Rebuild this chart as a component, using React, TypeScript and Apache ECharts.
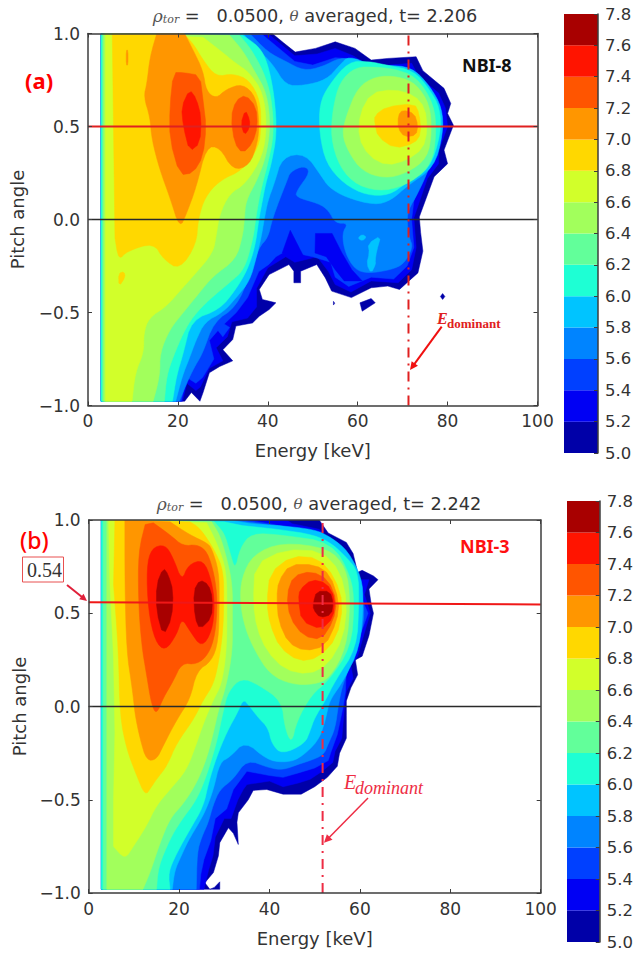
import React, { useEffect, useRef } from "react";
import * as echarts from "echarts";

type Pt = [number, number];
type Layer = [number, Pt[]];

const levels = [5.0, 5.2, 5.4, 5.6, 5.8, 6.0, 6.2, 6.4, 6.6, 6.8, 7.0, 7.2, 7.4, 7.6, 7.8];
const levelColors = ["#0000a8", "#0000f4", "#0040ff", "#0084ff", "#00c4ff", "#1effd4", "#62ff9a", "#a2ff5c", "#d2ff2a", "#ffd800", "#ff9600", "#ff5500", "#ff1400", "#a80000"];
const titleTimes = ["2.206", "2.242"];
const dominantEnergy = [71.3, 51.75];
const beamLineA: Pt[] = [[0, 0.5], [100, 0.5]];
const beamLineB: Pt[] = [[0, 0.559], [100, 0.547]];

// ---- panel (a): contour regions, energy [keV] / pitch angle ----
const a50: Pt[] = [[2.9,1],[41,1],[43.5,.95],[46.1,.9],[50.6,.92],[55,.955],[59.4,.92],[63,.857],[66.7,.866],[73,.875],[74.5,.8],[79.2,.705],[80.7,.624],[80,.57],[81.3,.507],[79.2,.373],[80,.3],[77,.23],[73.7,.014],[74,-.07],[74.5,-.17],[73.4,-.287],[69.3,-.376],[66.7,-.358],[63,-.367],[58.6,-.42],[54.2,-.385],[52.8,-.314],[50.9,-.242],[47.3,-.278],[47.3,-.34],[45.8,-.34],[45.8,-.278],[44.7,-.242],[40.3,-.296],[38.1,-.376],[38.8,-.43],[41.8,-.448],[40.3,-.484],[38.1,-.52],[36.6,-.556],[32.9,-.573],[32.2,-.645],[30,-.7],[32.2,-.76],[29.3,-.79],[27,-.824],[25.6,-.93],[24.9,-.977],[23,-.93],[21.5,-.977],[2.9,-.977]];
const a50b: Pt[] = [[60.5,-.448],[63,-.425],[63.9,-.448],[61,-.493]];
const a50c: Pt[] = [[78.9,-.398],[79.4,-.414],[78.9,-.43],[78.4,-.414]];
const a50d: Pt[] = [[54.6,-.44],[54.9,-.45],[54.6,-.46]];
const a52: Pt[] = [[2.9,1],[40,1],[46,.88],[51,.89],[55,.92],[59,.88],[63,.82],[67,.83],[72,.84],[73.5,.77],[78,.68],[79.5,.6],[80,.5],[78,.37],[78,.3],[75.5,.22],[72.5,.01],[73,-.15],[72,-.27],[69,-.34],[63,-.33],[58.5,-.39],[55,-.35],[53.5,-.28],[51,-.2],[46,-.23],[44,-.2],[40,-.26],[37.5,-.37],[37.5,-.47],[35.5,-.53],[32,-.55],[31,-.63],[28.5,-.69],[30,-.76],[27,-.8],[25,-.9],[24,-.92],[22,-.88],[21,-.977],[2.9,-.977]];
const a54: Pt[] = [[2.9,1],[38.5,1],[42,.93],[46,.85],[50,.83],[55,.87],[60,.86],[64,.78],[68,.8],[72,.78],[76,.68],[78,.6],[79,.5],[77,.37],[74,.22],[72.5,.1],[72,0],[72.5,-.15],[71,-.25],[68,-.32],[63,-.31],[58,-.36],[55,-.31],[54,-.23],[50,-.2],[44,-.17],[41.8,-.2],[40.3,-.24],[38,-.28],[35.5,-.42],[33,-.5],[29.5,-.58],[27,-.65],[28,-.75],[25.5,-.85],[24,-.88],[22,-.85],[20.7,-.977],[2.9,-.977]];
const a56: Pt[] = [[2.9,1],[36,1],[40,.9],[44,.85],[48,.8],[52,.82],[56,.87],[60,.86],[64,.8],[68,.8],[73,.76],[77,.66],[78.5,.6],[78.5,.46],[76,.28],[73.4,.14],[71.2,.05],[71,-.02],[71.5,-.1],[72.3,-.147],[70.4,-.237],[67.5,-.27],[62.4,-.29],[59.4,-.27],[57.2,-.18],[56.5,-.075],[57.9,-.02],[55,-.02],[53.5,.05],[51.3,.086],[46.2,.12],[46.5,.157],[49.5,.256],[48,.29],[45,.256],[44.3,.21],[42.5,.1],[41,0],[40,-.1],[38,-.15],[36,-.3],[33,-.47],[28,-.55],[25.5,-.72],[24,-.78],[22.5,-.85],[20.3,-.977],[2.9,-.977]];
const a58: Pt[] = [[2.9,1],[34.5,1],[37,.93],[41,.84],[44,.72],[48,.72],[53,.75],[56,.83],[58,.88],[63,.83],[66,.83],[72,.82],[76,.72],[78.8,.6],[79,.46],[77,.28],[71.2,.184],[67.5,.104],[63.8,.077],[57.2,.12],[53.5,.175],[52,.23],[48.4,.355],[43.2,.337],[41.4,.19],[40,.1],[39.2,0],[38.5,-.1],[37.5,-.2],[36,-.33],[33,-.42],[30,-.5],[26,-.55],[24,-.65],[22.5,-.75],[21,-.84],[19.5,-.977],[2.9,-.977]];
const a60: Pt[] = [[2.9,1],[34.4,.99],[38.1,.93],[40,.84],[41.5,.66],[42,.46],[40.8,.3],[39.5,.19],[38.8,.1],[38,0],[37.2,-.143],[35.5,-.27],[32.9,-.376],[29.3,-.484],[23,-.54],[21.2,-.72],[19.7,-.84],[18.8,-.977],[2.9,-.977]];
const a60r: Pt[] = [[51.5,.62],[53.5,.72],[58,.85],[62.5,.85],[66.5,.83],[72.5,.8],[76,.7],[78.3,.6],[78.5,.46],[76,.27],[71,.2],[67,.13],[62,.13],[57,.19],[53,.3],[51.5,.46]];
const a62: Pt[] = [[3.2,1],[33.7,.99],[35.9,.93],[39,.8],[40.8,.66],[41.4,.46],[40,.3],[39,.21],[38,.104],[37.3,0],[36.7,-.107],[34.8,-.27],[31.5,-.34],[27,-.43],[23.4,-.52],[21.2,-.61],[19,-.735],[17.5,-.84],[17,-.977],[3.2,-.977]];
const a62r: Pt[] = [[54.5,.6],[56,.74],[59.5,.82],[64,.82],[68,.81],[73,.77],[77,.62],[77.5,.46],[76.5,.3],[72,.2],[66,.15],[60,.18],[56,.28],[54,.44]];
const a64: Pt[] = [[3.5,1],[31.5,.99],[34.4,.91],[37,.8],[39.8,.68],[40.6,.5],[39.6,.337],[37.6,.21],[35.1,.1],[34.8,0],[34.4,-.09],[32.9,-.215],[27.8,-.305],[24.9,-.39],[21.2,-.5],[18.2,-.59],[16,-.717],[16,-.84],[14.5,-.977],[3.5,-.977]];
const a64r: Pt[] = [[57.5,.56],[60,.71],[64,.77],[69,.77],[73,.73],[76,.62],[76.5,.47],[75.5,.33],[71,.25],[66,.22],[61,.26],[58,.36],[56.5,.46]];
const a66: Pt[] = [[3.9,1],[25.6,.98],[29.3,.91],[32.9,.84],[35.9,.79],[39,.68],[39.8,.5],[38.8,.337],[35,.19],[31.5,.14],[29.3,.03],[28.5,-.09],[27.8,-.18],[23.4,-.305],[20.4,-.385],[17.5,-.466],[13.5,-.53],[12.4,-.61],[12.4,-.717],[10.5,-.824],[9.8,-.977],[3.9,-.977]];
const a66r: Pt[] = [[60.5,.57],[63,.68],[68,.7],[72.5,.67],[75,.6],[75.5,.48],[74.5,.38],[71,.32],[66.5,.29],[62.5,.34],[60.2,.44]];
const a68: Pt[] = [[5.4,1],[21.2,1],[23.4,.946],[25.6,.857],[28.5,.767],[32.2,.785],[35.9,.75],[38.3,.64],[38.5,.5],[38,.39],[34.4,.265],[29.3,.21],[26,.12],[24.5,0],[24.1,-.134],[20.4,-.27],[16.8,-.215],[14.6,-.125],[8.7,-.17],[6.8,-.22],[6,-.1]];
const a68b: Pt[] = [[6.8,-.29],[8,-.28],[8.3,-.31],[6.9,-.36]];
const a68r: Pt[] = [[63.8,.56],[66.4,.606],[72.6,.624],[73.7,.57],[74.1,.462],[72.6,.409],[68.2,.382],[64.5,.444],[63.8,.516]];
const a70: Pt[] = [[15.3,1],[13.8,.875],[13.1,.73],[12.4,.66],[13.8,.55],[14.2,.43],[16,.265],[18.2,.12],[20.4,-.048],[21.9,.03],[24.1,.175],[26.3,.39],[29.3,.39],[32.2,.265],[35.9,.29],[37.7,.41],[38.1,.515],[37.4,.66],[34.4,.73],[30.7,.7],[28.5,.65],[26.3,.69],[25.6,.8],[23.4,.91],[21.5,1]];
const a70b: Pt[] = [[8.5,.91],[8.9,.91],[8.9,.83],[8.5,.83]];
const a70r: Pt[] = [[69,.56],[70,.59],[72.6,.57],[73.4,.507],[73,.453],[70.4,.444],[69,.488]];
const a72: Pt[] = [[19,.79],[18.2,.605],[18.2,.43],[20.4,.24],[23.4,.25],[25.6,.34],[26.3,.5],[25.6,.64],[24.9,.775],[21.2,.79]];
const a72r: Pt[] = [[31.8,.55],[32.9,.64],[35.1,.67],[37.4,.605],[37.7,.5],[36.6,.41],[34.4,.355],[32.6,.41]];
const a74: Pt[] = [[22.6,.7],[20.8,.605],[21.2,.5],[22.6,.365],[24.9,.41],[25.2,.55],[24.1,.65]];
const a74r: Pt[] = [[35,.59],[34,.515],[34.8,.453],[35.9,.49],[36,.535]];
const a52p1: Pt[] = [[45,-.058],[48,-.2],[43.2,-.18]];
const a52p2: Pt[] = [[50.6,-.075],[54.3,-.075],[56.5,-.18],[58.7,-.27],[61,-.33],[57,-.33],[55,-.27],[53,-.2],[50.5,-.18]];
const a54p: Pt[] = [[29.5,-.55],[31.5,-.58],[30,-.63],[28.7,-.59]];
const a58p1: Pt[] = [[62.3,-.13],[65.2,-.085],[64.2,-.17],[63.9,-.22],[64,-.24],[63,-.29],[62,-.24],[62.6,-.18]];
const a58p2: Pt[] = [[60,-.1],[61,-.08],[62,-.095],[61,-.115]];

const layersA: Layer[] = [
  [0,a50],[0,a50b],[0,a50c],[0,a50d],[1,a52],[2,a54],[3,a56],[4,a58],[5,a60],[5,a60r],[6,a62],[6,a62r],[7,a64],[7,a64r],
  [8,a66],[8,a66r],[9,a68],[9,a68b],[9,a68r],[10,a70],[10,a70b],[10,a70r],[11,a72],[11,a72r],[12,a74],[12,a74r],
  [1,a52p1],[1,a52p2],[2,a54p],[4,a58p1],[4,a58p2],
];

// ---- panel (b) ----
const b50: Pt[] = [[2.8,1],[51,1],[53,.93],[57,.88],[58.5,.82],[59.5,.72],[60.5,.73],[63,.7],[64,.68],[62,.63],[62.5,.55],[63,.5],[62,.38],[60.5,.27],[59,.25],[59.5,.17],[58,.1],[57,.03],[57,-.05],[57,-.17],[55.5,-.25],[55,-.32],[52.8,-.38],[50,-.43],[47,-.47],[43,-.47],[39.4,-.445],[36.4,-.45],[35.3,-.5],[33.1,-.57],[32.8,-.62],[33.1,-.74],[32,-.68],[30.9,-.65],[29,-.73],[28.7,-.8],[27.6,-.89],[25.7,-.945],[26.8,-.98],[27.8,-.97],[29,-.94],[29,-.98],[2.8,-.98]];
const b52: Pt[] = [[2.8,1],[43.8,1],[45,.98],[51,.95],[53,.9],[56.5,.85],[58,.78],[59,.68],[62,.68],[61,.6],[62.3,.5],[60.8,.38],[59.5,.27],[58,.22],[58.5,.15],[57,.08],[56.6,0],[56,-.17],[54.5,-.24],[54,-.3],[51.5,-.35],[49,-.39],[46.4,-.41],[43,-.43],[40,-.4],[35,-.418],[34.2,-.445],[33,-.5],[31.5,-.6],[30,-.6],[28,-.7],[27.5,-.8],[26.5,-.88],[25.5,-.98],[2.8,-.98]];
const b54: Pt[] = [[2.8,1],[35,1],[40,.98],[44,.96],[50,.9],[53,.85],[56.5,.8],[57.5,.7],[59.5,.66],[60,.6],[61.8,.5],[60,.38],[58.5,.27],[57,.2],[56.8,.08],[56.3,0],[55,-.15],[53.5,-.25],[53,-.29],[50,-.33],[46.4,-.356],[43,-.38],[40,-.37],[35,-.347],[32,-.445],[30.5,-.55],[28,-.6],[27,-.72],[25.5,-.82],[24.8,-.9],[24.5,-.98],[2.8,-.98]];
const b56: Pt[] = [[2.8,1],[32,1],[38,.98],[46,.95],[50,.9],[53,.85],[56,.8],[58,.72],[59.5,.66],[61.3,.5],[59.5,.33],[57.5,.2],[56,.1],[55.2,0],[54.5,-.12],[53,-.2],[52,-.26],[49,-.29],[46.4,-.31],[43,-.34],[40,-.33],[35,-.284],[32,-.39],[29,-.445],[27.5,-.53],[26.5,-.62],[25,-.7],[24,-.78],[23.8,-.98],[2.8,-.98]];
const b58: Pt[] = [[2.8,1],[31,1],[36,.98],[42,.97],[50,.95],[53.8,.904],[57.4,.833],[60.4,.69],[60.8,.556],[60,.315],[56.3,.136],[53.7,.046],[53,0],[52.3,-.08],[50.8,-.186],[46.4,-.284],[43,-.3],[39.4,-.285],[34.6,-.185],[31.3,-.27],[29,-.3],[27.6,-.445],[26,-.55],[24.5,-.62],[22,-.72],[20.5,-.8],[19,-.88],[18.5,-.98],[2.8,-.98]];
const b60: Pt[] = [[2.8,1],[30,.99],[34,.97],[42,.95],[50,.92],[54,.87],[57,.8],[59.6,.726],[59.8,.556],[59.3,.315],[54.5,.136],[52.3,.029],[50,-.06],[49,-.13],[47.8,-.2],[42.7,-.257],[40.5,-.2],[39.7,-.114],[37.5,-.06],[35.3,.01],[34.2,.038],[33.1,-.025],[30.5,-.14],[28.3,-.27],[26.5,-.41],[25.4,-.535],[22.4,-.66],[19.5,-.785],[17.6,-.89],[18,-.98],[2.8,-.98]];
const b62: Pt[] = [[3.2,1],[27.8,.99],[30,.93],[31.2,.83],[32.4,.73],[33.5,.85],[36,.93],[42.7,.92],[53.8,.88],[58,.7],[58.8,.55],[58,.315],[53,.136],[49.3,.064],[46,-.08],[44.9,-.2],[43.4,-.115],[42.7,.03],[37.5,.118],[33.8,.154],[30.9,.082],[29.8,-.02],[28.3,-.195],[26.1,-.37],[23.9,-.5],[20.2,-.62],[18,-.71],[15.4,-.86],[15,-.98],[3.2,-.98]];
const b64: Pt[] = [[4,1],[27.2,.99],[29,.92],[30.5,.8],[31.8,.654],[31.8,.475],[31.8,.297],[30.5,.118],[28.7,-.02],[27.6,-.14],[26.1,-.28],[23.9,-.41],[21,-.52],[18,-.6],[15.8,-.73],[13.6,-.89],[12,-.98],[4,-.98]];
const b64r: Pt[] = [[33.5,.556],[34.6,.42],[36.8,.297],[40.1,.172],[44.9,.118],[50,.118],[53.4,.154],[57,.315],[57.9,.556],[57,.743],[53,.85],[42.7,.88],[36.4,.815],[33.8,.69]];
const b66: Pt[] = [[4.4,1],[26.1,.985],[28.5,.87],[30.5,.726],[30.6,.51],[30.5,.297],[29.4,.118],[27.6,.0375],[25.4,-.09],[23.9,-.195],[21.7,-.34],[18,-.445],[15,-.53],[12.8,-.64],[9.9,-.75],[8,-.82],[5.5,-.75],[5.5,-.5],[5.8,-.14],[5.5,.26],[4.7,.654]];
const b66r: Pt[] = [[36.4,.556],[37.2,.42],[39.4,.297],[43.4,.198],[48.6,.172],[53,.225],[56.3,.368],[57.2,.556],[55.6,.726],[51.5,.833],[43.4,.842],[36.8,.761]];
const b68: Pt[] = [[5.8,1],[22.4,.99],[24.6,.958],[28,.833],[29.8,.726],[29.9,.565],[29.7,.404],[28.8,.243],[27.6,.118],[25.4,.0375],[23.2,-.07],[19.5,-.195],[17.3,-.32],[15,-.39],[13.9,-.43],[12.5,-.48],[10.6,-.37],[8.4,-.23],[6.9,-.05],[6.6,.297],[5.5,.654]];
const b68r: Pt[] = [[39.4,.556],[40.1,.44],[42.3,.315],[46.4,.243],[50.8,.26],[54.9,.368],[56.3,.547],[54.5,.69],[50.8,.797],[44.9,.806],[40.1,.717]];
const b70: Pt[] = [[8,1],[18,.99],[22.4,.92],[26.1,.878],[27.2,.85],[28.8,.726],[28.9,.565],[28.7,.35],[27.2,.243],[23.9,.19],[22.4,.0375],[19.5,-.07],[16.5,-.21],[15,-.285],[12.8,-.29],[11.4,-.177],[10.3,-.05],[9.9,.04],[9.5,.118],[8.4,.297],[8,.654]];
const b70r: Pt[] = [[41.6,.583],[42,.457],[44.2,.34],[47.8,.297],[52.3,.323],[54.9,.457],[55.4,.565],[53.4,.708],[50.1,.761],[44.5,.761],[42,.672]];
const b72: Pt[] = [[12.5,.976],[14.3,.985],[18,.92],[20.9,.86],[23.9,.869],[26.2,.833],[27.8,.708],[28.5,.565],[28,.386],[26.5,.279],[23.9,.225],[20.6,.234],[18.7,.136],[16.5,.046],[15,-.043],[13.9,.01],[12.8,.17],[11.7,.33],[11,.565],[11,.83]];
const b72r: Pt[] = [[43.8,.6],[44.5,.475],[47.5,.377],[51.5,.359],[54.1,.457],[54.9,.565],[53,.68],[49.3,.726],[45.3,.7]];
const b74: Pt[] = [[13.9,.85],[16.9,.869],[18.7,.797],[20.6,.672],[22,.76],[25.4,.788],[27.2,.672],[27.9,.547],[27.3,.404],[25,.315],[22.4,.404],[20.6,.475],[19.5,.386],[16.9,.297],[14.7,.35],[13.2,.51],[12.8,.744]];
const b74r: Pt[] = [[46.4,.574],[47.1,.457],[51.5,.413],[54.1,.475],[54.5,.583],[52.6,.663],[49.3,.681],[46.7,.627]];
const b76a: Pt[] = [[16.5,.744],[15,.654],[15,.51],[16.5,.377],[18.4,.475],[18.7,.618],[17.6,.708]];
const b76b: Pt[] = [[24.6,.68],[23.2,.618],[23.5,.475],[24.6,.413],[27.2,.475],[27.4,.583],[26.5,.654]];
const b76r: Pt[] = [[49.7,.556],[50.4,.618],[53.4,.618],[54.1,.556],[53.7,.493],[51.2,.475],[49.7,.52]];

const layersB: Layer[] = [
  [0,b50],[1,b52],[2,b54],[3,b56],[4,b58],[5,b60],[6,b62],[7,b64],[7,b64r],[8,b66],[8,b66r],[9,b68],[9,b68r],
  [10,b70],[10,b70r],[11,b72],[11,b72r],[12,b74],[12,b74r],[13,b76a],[13,b76b],[13,b76r],
];

const tickColor = "#3c3c3c";
const textColor = "#333333";
const sans = "DejaVu Sans";
const FONT = 17;

// Rounds a contour's corners, leaving the points on the plot's left, top and bottom edges in place.
function rounded(poly: Pt[], coords: number[][], iterations: number) {
  let pts = coords.map((c, i) => ({ c, fixed: poly[i][1] >= 0.97 || poly[i][1] <= -0.97 || poly[i][0] <= 6 }));
  for (let k = 0; k < iterations; k++) {
    const next: typeof pts = [];
    pts.forEach((a, i) => {
      const b = pts[(i + 1) % pts.length];
      const mix = (t: number) => [a.c[0] + (b.c[0] - a.c[0]) * t, a.c[1] + (b.c[1] - a.c[1]) * t];
      next.push(a.fixed ? a : { c: mix(0.25), fixed: false });
      if (!b.fixed) next.push({ c: mix(0.75), fixed: false });
    });
    pts = next;
  }
  return pts.map((p) => p.c);
}

function contourSeries(layers: Layer[], axisIndex: number) {
  return {
    type: "custom",
    xAxisIndex: axisIndex,
    yAxisIndex: axisIndex,
    silent: true,
    clip: true,
    z: 1,
    data: layers.map((_, i) => [0, 0, i]),
    renderItem: (_p: any, api: any) => {
      const [lvl, poly] = layers[api.value(2)];
      const coords = poly.map((q) => api.coord(q));
      const iterations = lvl < 3 ? 0 : poly.length > 12 ? 2 : 1;
      return {
        type: "polygon",
        shape: { points: rounded(poly, coords, iterations) },
        style: { fill: levelColors[lvl], stroke: levelColors[lvl], lineWidth: 0.5 },
      };
    },
  };
}

function barSeries(axisIndex: number) {
  return {
    type: "custom",
    xAxisIndex: axisIndex,
    yAxisIndex: axisIndex,
    silent: true,
    z: 1,
    data: levelColors.map((_, i) => [0, levels[i], i]),
    renderItem: (_p: any, api: any) => {
      const i = api.value(2);
      const a = api.coord([0, levels[i + 1]]);
      const b = api.coord([1, levels[i]]);
      return { type: "rect", shape: { x: a[0], y: a[1], width: b[0] - a[0], height: b[1] - a[1] }, style: { fill: levelColors[i] } };
    },
  };
}

function lineSeries(data: Pt[], axisIndex: number, color: string, width: number, type: any = "solid") {
  return {
    type: "line",
    xAxisIndex: axisIndex,
    yAxisIndex: axisIndex,
    data,
    symbol: "none",
    silent: true,
    z: 5,
    lineStyle: { color, width, type },
  };
}

function plotAxes(gridIndex: number, yNameGap: number) {
  const base = {
    gridIndex,
    type: "value" as const,
    axisLine: { show: true, onZero: false, lineStyle: { color: tickColor, width: 1.5 } },
    axisTick: { show: true, inside: true, length: 4, lineStyle: { color: tickColor, width: 1 } },
    splitLine: { show: false },
    z: 10,
  };
  const x = { ...base, min: 0, max: 100, interval: 20 };
  const y = { ...base, min: -1, max: 1, interval: 0.5 };
  const label = { color: textColor, fontFamily: sans, fontSize: FONT, hideOverlap: false, showMinLabel: true, showMaxLabel: true };
  const nameStyle = { color: textColor, fontFamily: sans, fontSize: 18 };
  return {
    x: [
      { ...x, position: "bottom", name: "Energy [keV]", nameLocation: "middle", nameGap: 36, nameTextStyle: nameStyle, axisLabel: { ...label, margin: 7 } },
      { ...x, position: "top", axisLabel: { show: false } },
    ],
    y: [
      { ...y, position: "left", name: "Pitch angle", nameLocation: "middle", nameGap: yNameGap, nameTextStyle: nameStyle, axisLabel: { ...label, margin: 8, formatter: (v: number) => v.toFixed(1).replace("-", "\u2212") } },
      { ...y, position: "right", axisLabel: { show: false } },
    ],
  };
}

function barAxes(gridIndex: number) {
  return {
    x: { gridIndex, type: "value" as const, min: 0, max: 1, show: false },
    y: {
      gridIndex,
      type: "value" as const,
      min: 5,
      max: 7.8,
      interval: 0.2,
      position: "right",
      axisLine: { show: true, onZero: false, lineStyle: { color: tickColor, width: 1.5 } },
      axisTick: { show: true, inside: true, length: 4, lineStyle: { color: tickColor, width: 1 } },
      splitLine: { show: false },
      z: 10,
      axisLabel: { color: textColor, fontFamily: sans, fontSize: 16.5, margin: 7, showMinLabel: true, showMaxLabel: true, hideOverlap: false, formatter: (v: number) => v.toFixed(1) },
    },
  };
}

function title(t: string, left: number, top: number) {
  const r = { fontFamily: "DejaVu Serif", fontStyle: "italic" as const, fontWeight: "normal" as const, color: "#555", fontSize: 17 };
  return {
    text: `{rho|\u03c1}{sub|tor}{n| =   0.0500, }{th|\u03b8}{n| averaged, t= ${t}}`,
    left,
    top,
    textAlign: "center" as const,
    textStyle: {
      fontWeight: "normal" as const,
      rich: {
        rho: r,
        sub: { ...r, fontSize: 11, verticalAlign: "bottom" as const, padding: [8, 0, 0, 0] },
        th: { ...r, fontSize: 15 },
        n: { fontFamily: sans, fontWeight: "normal" as const, fontSize: 17.7, color: textColor },
      },
    },
  };
}

function arrow(x1: number, y1: number, x2: number, y2: number, color: string, width: number, head: number) {
  const ang = Math.atan2(y2 - y1, x2 - x1);
  const p = (a: number, l: number) => [x2 - l * Math.cos(ang + a), y2 - l * Math.sin(ang + a)];
  return [
    { type: "line", shape: { x1, y1, x2: x2 - (head - 2) * Math.cos(ang), y2: y2 - (head - 2) * Math.sin(ang) }, style: { stroke: color, lineWidth: width }, z: 30 },
    { type: "polygon", shape: { points: [[x2, y2], p(0.45, head), p(-0.45, head)] }, style: { fill: color }, z: 30 },
  ];
}

function label(text: string, x: number, y: number, font: any) {
  return { type: "text", x, y, z: 30, style: { text, fontFamily: font.family, fontSize: font.size, fontWeight: font.weight ?? "normal", fontStyle: font.style ?? "normal", fill: font.color, verticalAlign: "middle" } };
}

export default function App() {
  const ref = useRef<HTMLDivElement>(null);
  useEffect(() => {
    document.body.style.margin = "0";
    const chart = echarts.init(ref.current!, undefined, { renderer: "svg" });
    const pa = plotAxes(0, 62);
    const pb = plotAxes(2, 60);
    const ca = barAxes(1);
    const cb = barAxes(3);
    const red = "#e02020";
    const red2 = "#ee2c44";
    chart.setOption({
      animation: false,
      backgroundColor: "#ffffff",
      title: [title(titleTimes[0], 310, 1), title(titleTimes[1], 314, 489)],
      grid: [
        { left: 84, top: 33.5, width: 453.5, height: 372 },
        { left: 564, top: 14, width: 34, height: 439 },
        { left: 88.7, top: 520, width: 452, height: 373 },
        { left: 567, top: 501, width: 35, height: 441 },
      ],
      xAxis: [pa.x[0], ca.x, pb.x[0], cb.x, pa.x[1], pb.x[1]],
      yAxis: [pa.y[0], ca.y, pb.y[0], cb.y, pa.y[1], pb.y[1]],
      series: [
        contourSeries(layersA, 0),
        barSeries(1),
        contourSeries(layersB, 2),
        barSeries(3),
        lineSeries([[0, 0], [100, 0]], 0, "#2a2a2a", 1.5),
        lineSeries(beamLineA, 0, red, 2),
        lineSeries([[dominantEnergy[0], -1], [dominantEnergy[0], 1]], 0, red, 2, [10, 6, 2, 6]),
        lineSeries([[0, 0], [100, 0]], 2, "#2a2a2a", 1.5),
        lineSeries(beamLineB, 2, "#f01818", 2),
        lineSeries([[dominantEnergy[1], -1], [dominantEnergy[1], 1]], 2, red2, 2, [10, 6, 2, 6]),
      ],
      graphic: [
        label("(a)", 25, 80, { family: "Noto Sans", size: 22, weight: "bold", color: "#ff0000" }),
        label("(b)", 20, 540, { family: "Noto Sans", size: 23, weight: 500, color: "#ff0000" }),
        label("NBI-8", 462, 65, { family: "Noto Sans", size: 18, weight: "bold", color: "#111111" }),
        label("NBI-3", 460, 546, { family: "Noto Sans", size: 18, weight: "bold", color: "#ff1010" }),
        label("E", 437, 318, { family: "Liberation Serif", size: 16, weight: "bold", style: "italic", color: red }),
        label("dominant", 447, 323, { family: "Liberation Serif", size: 13, weight: "bold", color: red }),
        label("E", 344, 782, { family: "Liberation Serif", size: 20, style: "italic", color: red2 }),
        label("dominant", 355, 788, { family: "Liberation Serif", size: 18, style: "italic", color: red2 }),
        { type: "rect", shape: { x: 22.5, y: 557, width: 41, height: 25 }, style: { fill: "#ffffff", stroke: "#e85050", lineWidth: 1 }, z: 29 },
        label("0.54", 27, 570, { family: "Liberation Serif", size: 20, color: "#333333" }),
        ...arrow(441.7, 326.7, 410, 370, "#f01010", 2, 9),
        ...arrow(368, 798, 324, 842.7, red2, 1.5, 9),
        ...arrow(67, 585, 87, 601, "#e0203a", 2, 8),
      ],
    });
    return () => chart.dispose();
  }, []);
  return <div ref={ref} style={{ position: "fixed", left: 0, top: 0, width: 636, height: 953 }} />;
}
